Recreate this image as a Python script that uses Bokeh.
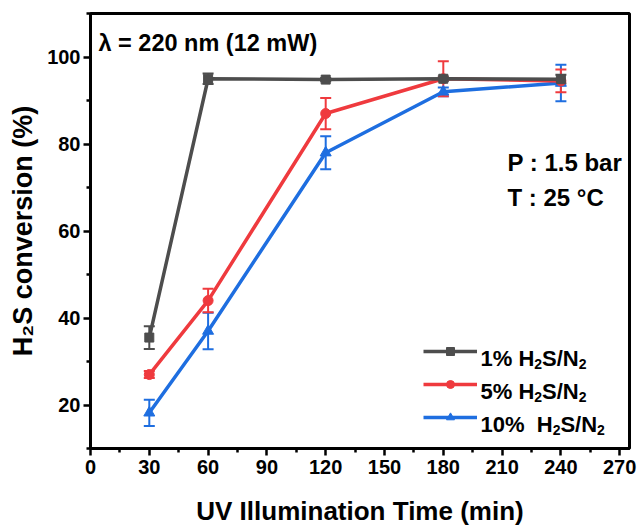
import math
from bokeh.plotting import figure
from bokeh.models import (ColumnDataSource, Range1d, FixedTicker, Whisker, TeeHead,
                          Legend, LegendItem, Label)
from bokeh.embed import file_html
from bokeh.resources import INLINE

# ---------------- data ----------------
time_min = [30, 60, 120, 180, 240]
conv_1 = [35.5, 95.0, 94.8, 95.0, 94.9]
err_1 = [2.6, 1.2, 0.4, 0.5, 1.0]
conv_5 = [27.0, 44.0, 87.0, 95.0, 94.5]
err_5 = [0.8, 2.7, 3.6, 4.0, 2.6]
conv_10 = [18.2, 37.0, 78.0, 92.0, 94.0]
err_10 = [3.0, 4.2, 3.8, 1.0, 4.2]

x_ticks = [0, 30, 60, 90, 120, 150, 180, 210, 240, 270]
x_minor = [15, 45, 75, 105, 135, 165, 195, 225, 255]
y_ticks = [20, 40, 60, 80, 100]
y_minor = [10, 30, 50, 70, 90, 110]

C1 = "#4d4d4d"
C5 = "#ef3a3e"
C10 = "#1e6ee0"
FONT = "Liberation Sans"

W, H = 638, 529
FL, FR, FT, FB = 90, 629, 13, 448

p = figure(width=W, height=H, x_range=Range1d(0, 275), y_range=Range1d(10, 110),
           output_backend="svg", toolbar_location=None,
           min_border_left=FL, min_border_right=W - FR, min_border_top=FT,
           min_border_bottom=H - FB)
p.grid.visible = False
p.outline_line_color = "black"
p.outline_line_width = 3
p.background_fill_color = "white"
p.border_fill_color = "white"

for ax in (p.xaxis, p.yaxis):
    ax.axis_line_width = 3
    ax.major_tick_line_width = 2.5
    ax.minor_tick_line_width = 2.5
    ax.major_tick_out = 7
    ax.major_tick_in = 0
    ax.minor_tick_out = 4
    ax.minor_tick_in = 0
    ax.major_label_text_font = FONT
    ax.major_label_text_font_style = "bold"
    ax.major_label_text_font_size = "20px"
    ax.major_label_text_color = "black"
    ax.axis_label_text_font = FONT
    ax.axis_label_text_font_style = "bold"
    ax.axis_label_text_color = "black"

p.xaxis.ticker = FixedTicker(ticks=x_ticks, minor_ticks=x_minor)
p.yaxis.ticker = FixedTicker(ticks=y_ticks, minor_ticks=y_minor)
p.xaxis.major_label_standoff = 4
p.yaxis.major_label_standoff = 3
p.xaxis.axis_label = "UV Illumination Time (min)"
p.xaxis.axis_label_text_font_size = "26px"
p.xaxis.axis_label_standoff = 19
p.yaxis.axis_label = "H\u2082S conversion (%)"
p.yaxis.axis_label_text_font_size = "27px"
p.yaxis.axis_label_standoff = 6

series = [
    (conv_10, err_10, C10, "triangle", 11),
    (conv_5, err_5, C5, "circle", 10),
    (conv_1, err_1, C1, "square", 9),
]
legend_r = {}
for conv, err, col, mk, sz in series:
    src = ColumnDataSource(dict(x=time_min, y=conv,
                                upper=[c + e for c, e in zip(conv, err)],
                                lower=[c - e for c, e in zip(conv, err)]))
    p.add_layout(Whisker(source=src, base="x", upper="upper", lower="lower",
                         line_color=col, line_width=2,
                         upper_head=TeeHead(size=11, line_color=col, line_width=2),
                         lower_head=TeeHead(size=11, line_color=col, line_width=2)))
    ln = p.line("x", "y", source=src, line_color=col, line_width=3.5)
    sc = p.scatter("x", "y", source=src, marker=mk, size=sz, fill_color=col, line_color=col)
    legend_r[col] = [ln, sc]

legend = Legend(items=[LegendItem(label=" ", renderers=legend_r[C1]),
                       LegendItem(label=" ", renderers=legend_r[C5]),
                       LegendItem(label=" ", renderers=legend_r[C10])],
                location=(423 - FL, FB - 427), padding=0, margin=0, spacing=13,
                glyph_width=54, glyph_height=20, label_height=20, label_width=10,
                label_standoff=0, border_line_alpha=0, background_fill_alpha=0,
                label_text_font_size="4px")
p.add_layout(legend)

# ---------- rich text helper (with subscripts) ----------
ADV = {" ": .278, "%": .889, "(": .333, ")": .333, "/": .278, ".": .278, ":": .333,
       "H": .722, "N": .722, "S": .667}
for d in "0123456789":
    ADV[d] = .556


def tw(s, size):
    return sum(ADV.get(ch, .6) for ch in s) * size


def label(cx, cy, text, size, align="left"):
    p.add_layout(Label(x=cx - FL, y=FB - cy, x_units="screen", y_units="screen",
                       text=text, text_font=FONT, text_font_style="bold",
                       text_font_size=f"{size}px", text_color="black",
                       text_align=align, text_baseline="alphabetic"))


def rich(cx, cy, parts):
    """parts: (text, size, drop); blank text only advances"""
    adv = 0.0
    for text, size, drop in parts:
        if text.strip():
            label(cx + adv, cy + drop, text, size)
        adv += tw(text, size)


# legend texts
LS, SS, DR = 22, 14, 5
rich(480, 358, [("1% H", LS, 0), ("2", SS, DR), ("S/N", LS, 0), ("2", SS, DR)])
rich(480, 391, [("5% H", LS, 0), ("2", SS, DR), ("S/N", LS, 0), ("2", SS, DR)])
rich(480, 424, [("10%", LS, 0), ("  ", LS, 0), ("H", LS, 0), ("2", SS, DR),
                ("S/N", LS, 0), ("2", SS, DR)])

# annotations
label(98, 42, "λ = 220 nm (12 mW)", 23.5)
label(507, 162, "P : 1.5 bar", 24)
label(507, 197, "T : 25 °C", 24)

open("out.html", "w").write(file_html(p, INLINE))
